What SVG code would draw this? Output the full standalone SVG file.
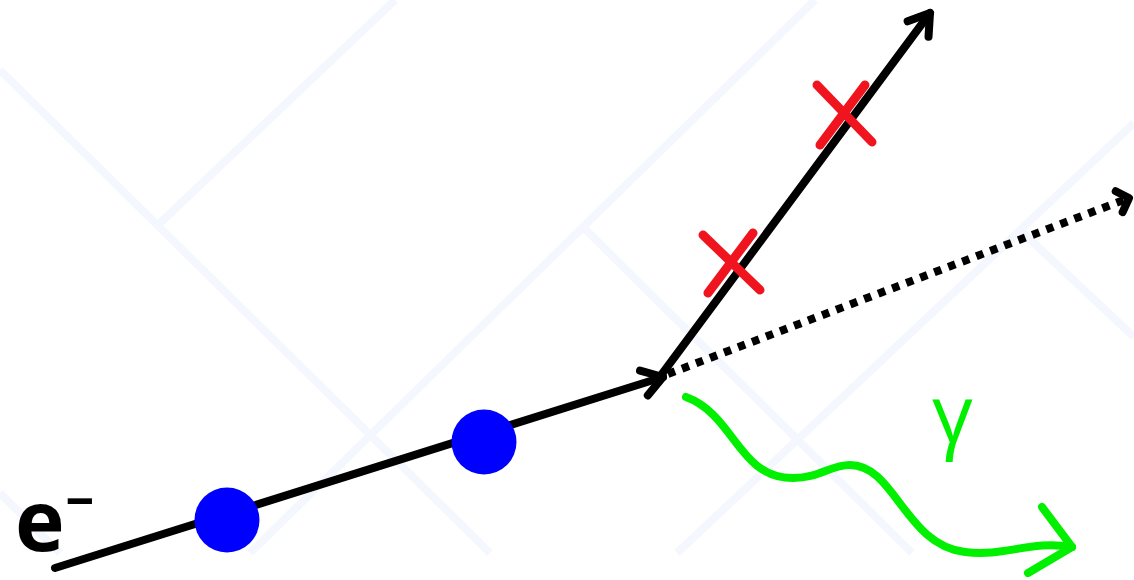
<svg xmlns="http://www.w3.org/2000/svg" width="1134" height="580" viewBox="0 0 1134 580">
  <style>
    .bg { stroke: #f4f7fe; stroke-width: 8; fill: none; }
    .track { stroke: #000; stroke-width: 8; fill: none; stroke-linecap: round; }
    .dotted { stroke: #000; stroke-width: 8; fill: none; stroke-dasharray: 7.5 7.5; }
    .cross { stroke: #f0141e; stroke-width: 9; fill: none; stroke-linecap: round; }
    .photon { stroke: #00f000; stroke-width: 8; fill: none; stroke-linecap: round; stroke-linejoin: round; }
    .hit { fill: #0000ff; }
    .lbl { font-family: "Open Sans", "Noto Sans", "DejaVu Sans", sans-serif; }
  </style>
  <defs>
    <marker id="arr" markerUnits="userSpaceOnUse" markerWidth="60" markerHeight="60" viewBox="-30 -30 60 60" refX="0" refY="0" orient="auto" overflow="visible">
      <path d="M-20,-13 L0,0 L-20,13" fill="none" stroke="#000" stroke-width="8" stroke-linecap="round" stroke-linejoin="round"/>
    </marker>
    <marker id="arrs" markerUnits="userSpaceOnUse" markerWidth="60" markerHeight="60" viewBox="-30 -30 60 60" refX="0" refY="0" orient="auto" overflow="visible">
      <path d="M-10,-11 L0,0 L-11,11" fill="none" stroke="#000" stroke-width="8" stroke-linecap="round" stroke-linejoin="round"/>
    </marker>
  </defs>
  <rect width="1134" height="580" fill="#ffffff"/>
  <g id="background">
    <line class="bg" x1="0" y1="70" x2="490" y2="553"/>
    <line class="bg" x1="158" y1="225" x2="395" y2="0"/>
    <line class="bg" x1="250" y1="553" x2="815" y2="0"/>
    <line class="bg" x1="583" y1="227" x2="912" y2="553"/>
    <line class="bg" x1="677" y1="553" x2="1134" y2="123"/>
    <line class="bg" x1="1020" y1="230" x2="1134" y2="337"/>
    <line class="bg" x1="0" y1="493" x2="60" y2="553"/>
  </g>
  <g id="connectors">
    <line id="incoming" class="track" x1="55" y1="568" x2="663" y2="377" marker-end="url(#arr)"/>
    <line id="outgoing" class="track" x1="662" y1="374" x2="930" y2="13" marker-end="url(#arr)"/>
    <line id="neutral" class="dotted" x1="668" y1="374" x2="1129" y2="198" marker-end="url(#arrs)"/>
    <g id="photon">
      <path class="photon" d="M686,397 C735,415 738,478 793,478 C820,478 830,465 850,465 C895,465 905,545 965,552 C1005,557 1030,540 1072,547"/>
      <path class="photon" d="M1042,507 L1072,547 L1028,573"/>
    </g>
  </g>
  <g id="hit1"><circle class="hit" cx="227" cy="520" r="32.5"/></g>
  <g id="hit2"><circle class="hit" cx="484" cy="442" r="32.5"/></g>
  <g id="cross1">
    <line class="cross" x1="703" y1="235" x2="760" y2="290"/>
    <line class="cross" x1="753" y1="233" x2="708" y2="293"/>
  </g>
  <g id="cross2">
    <line class="cross" x1="817" y1="85" x2="872" y2="142"/>
    <line class="cross" x1="865" y1="85" x2="820" y2="145"/>
  </g>
  <g id="label-electron">
    <text class="lbl" x="15" y="551" font-size="84" font-weight="bold" fill="#000">e<tspan>⁻</tspan></text>
  </g>
  <g id="label-gamma">
    <text class="lbl" x="932" y="443" font-size="80" fill="#00f000">γ</text>
  </g>
</svg>
